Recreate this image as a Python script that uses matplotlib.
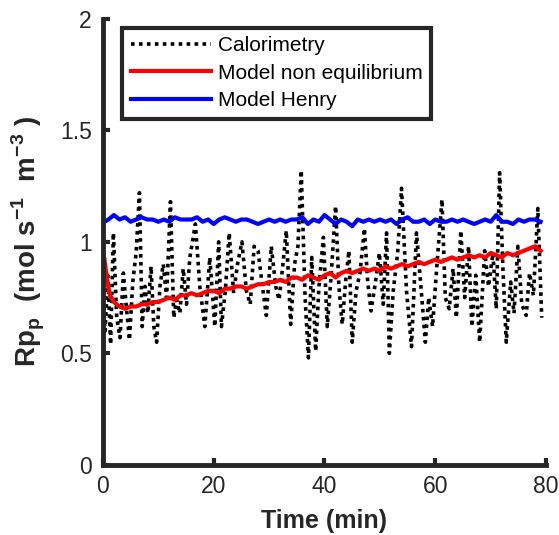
import matplotlib
matplotlib.use('Agg')
import matplotlib.pyplot as plt

plt.rcParams['font.family'] = ['Liberation Sans', 'DejaVu Sans']
plt.rcParams['mathtext.fontset'] = 'custom'
plt.rcParams['mathtext.rm'] = 'Liberation Sans'
plt.rcParams['mathtext.bf'] = 'Liberation Sans:bold'

# Calorimetry (turning points)
cal_t = [0.0, 0.4, 0.9, 1.4, 1.9, 2.5, 3.1, 3.7, 4.2, 4.8, 5.4, 6.0, 6.6, 7.1, 7.6,
         8.1, 8.7, 9.2, 9.7, 10.3, 10.9, 11.5, 12.2, 12.8, 13.3, 13.9, 14.5, 15.1,
         15.7, 16.7, 17.5, 18.4, 19.3, 20.2, 20.9, 21.4, 22.1, 22.8, 23.6, 24.3,
         25.1, 25.9, 26.6, 27.3, 28.0, 28.8, 29.5, 30.4, 31.2, 31.8, 32.5, 33.1,
         33.9, 34.6, 35.2, 35.8, 36.5, 37.1, 37.7, 38.4, 39.0, 39.8, 40.5, 41.2,
         42.0, 42.6, 43.2, 43.8, 44.4, 45.0, 45.7, 46.4, 47.2, 47.8, 48.4, 49.2,
         49.9, 50.6, 51.2, 51.7, 52.4, 53.2, 53.9, 54.8, 55.7, 56.6, 57.4, 58.2,
         58.8, 59.5, 60.3, 61.2, 61.8, 62.5, 63.2, 63.8, 64.6, 65.3, 66.0, 66.6,
         67.3, 68.0, 68.9, 69.6, 70.4, 71.0, 71.6, 72.2, 72.8, 73.6, 74.2, 74.9,
         75.6, 76.4, 77.0, 77.7, 78.5, 79.2]
cal_v = [0.78, 0.60, 0.85, 0.54, 1.04, 0.66, 0.57, 0.86, 0.72, 0.56, 0.82, 0.95, 1.22, 0.62, 0.80,
         0.68, 0.89, 0.62, 0.55, 0.80, 0.90, 0.75, 1.18, 0.66, 0.74, 0.68, 0.88, 0.72,
         0.93, 1.08, 0.80, 0.62, 0.93, 0.62, 1.00, 0.62, 0.78, 1.04, 0.77, 0.90,
         1.00, 0.78, 0.72, 0.98, 0.96, 0.80, 0.67, 0.98, 0.80, 0.74, 0.90, 1.05,
         0.63, 0.90, 0.98, 1.32, 0.75, 0.48, 0.93, 0.51, 0.80, 1.02, 0.62, 0.85,
         1.16, 0.80, 0.63, 0.82, 0.96, 0.55, 0.78, 0.86, 1.06, 0.82, 0.69, 0.82,
         0.95, 0.72, 1.04, 0.50, 0.78, 0.95, 1.24, 0.78, 0.53, 1.04, 0.80, 0.55,
         0.75, 0.62, 0.90, 1.19, 0.75, 0.70, 0.88, 0.66, 1.05, 0.75, 0.98, 0.62,
         0.85, 0.55, 0.96, 0.80, 0.95, 0.70, 1.31, 0.88, 0.55, 0.82, 0.68, 0.98,
         0.72, 0.67, 0.86, 0.76, 1.15, 0.66]

# Model non equilibrium
neq_t = [0.3, 0.8, 1.3, 2, 3, 4, 5, 6, 7, 8, 9, 10, 11, 12, 13, 14, 15, 16, 17, 18, 19,
         20, 21, 22, 23, 24, 25, 26, 27, 28, 29, 30, 31, 32, 33, 34, 35, 36, 37, 38, 39,
         40, 41, 42, 43, 44, 45, 46, 47, 48, 49, 50, 51, 52, 53, 54, 55, 56, 57, 58, 59,
         60, 61, 62, 63, 64, 65, 66, 67, 68, 69, 70, 71, 72, 73, 74, 75, 76, 77, 78, 79]
neq_v = [0.92, 0.82, 0.76, 0.73, 0.71, 0.70, 0.71, 0.71, 0.72, 0.72, 0.73, 0.73, 0.74, 0.75,
         0.74, 0.76, 0.76, 0.77, 0.76, 0.77, 0.78, 0.78, 0.77, 0.79, 0.79, 0.80, 0.80, 0.79,
         0.80, 0.81, 0.81, 0.82, 0.82, 0.83, 0.82, 0.84, 0.84, 0.83, 0.85, 0.84, 0.83, 0.85,
         0.86, 0.84, 0.86, 0.87, 0.86, 0.87, 0.88, 0.87, 0.88, 0.87, 0.89, 0.88, 0.89, 0.90,
         0.89, 0.90, 0.91, 0.90, 0.91, 0.92, 0.91, 0.92, 0.93, 0.92, 0.93, 0.94, 0.93, 0.94,
         0.93, 0.95, 0.94, 0.93, 0.95, 0.94, 0.95, 0.96, 0.97, 0.98, 0.96]

# Model Henry
hen_t = [0.3] + list(range(1, 80))
hen_v = [1.09, 1.10, 1.12, 1.10, 1.11, 1.09, 1.10, 1.11, 1.10, 1.10, 1.09, 1.10, 1.09, 1.11,
         1.10, 1.10, 1.10, 1.11, 1.09, 1.10, 1.08, 1.10, 1.11, 1.10, 1.09, 1.10, 1.10, 1.09,
         1.08, 1.09, 1.10, 1.09, 1.10, 1.09, 1.10, 1.10, 1.11, 1.08, 1.10, 1.09, 1.12, 1.10,
         1.08, 1.10, 1.09, 1.07, 1.10, 1.09, 1.10, 1.09, 1.10, 1.09, 1.10, 1.08, 1.10, 1.11,
         1.09, 1.09, 1.10, 1.08, 1.10, 1.09, 1.09, 1.10, 1.09, 1.10, 1.09, 1.08, 1.09, 1.10,
         1.09, 1.12, 1.09, 1.09, 1.08, 1.10, 1.09, 1.10, 1.10, 1.09]

fig = plt.figure(figsize=(5.59, 5.35), dpi=100)
ax = fig.add_axes([0.184, 0.131, 0.793, 0.834])

ax.plot(cal_t, cal_v, color='black', lw=2.6, linestyle=(0, (1, 1.2)), label='Calorimetry')
ax.plot(neq_t, neq_v, color='#ff0000', lw=3, label='Model non equilibrium')
ax.plot(hen_t, hen_v, color='#0000ff', lw=3, label='Model Henry')

ax.set_xlim(0, 80)
ax.set_ylim(0, 2)
ax.set_xticks([0, 20, 40, 60, 80])
ax.set_yticks([0, 0.5, 1, 1.5, 2])
ax.set_yticklabels(['0', '0.5', '1', '1.5', '2'])
ax.tick_params(direction='in', length=5, width=3, labelsize=16.5, color='#262626',
               labelcolor='#262626')
ax.tick_params(axis='x', pad=7)
ax.tick_params(axis='y', pad=8)
for s in ['top', 'right']:
    ax.spines[s].set_visible(False)
for s in ['left', 'bottom']:
    ax.spines[s].set_linewidth(3.5)
    ax.spines[s].set_color('#262626')

ax.set_xlabel('Time (min)', fontsize=18, fontweight='bold', color='#262626', labelpad=8)
ax.set_ylabel(r'Rp$_\mathbf{p}$  (mol s$^{\mathbf{-1}}$  m$^{\mathbf{-3}}$ )', fontsize=20,
              fontweight='bold', color='#262626', labelpad=9)

leg = ax.legend(loc='upper left', bbox_to_anchor=(0.044, 0.98), fontsize=15,
                handlelength=3.85, labelspacing=0.42, fancybox=False, framealpha=1,
                borderaxespad=0, handletextpad=0.35, borderpad=0.4)
leg.get_frame().set_edgecolor('#262626')
leg.get_frame().set_linewidth(3)

fig.savefig('out.png', dpi=100)
